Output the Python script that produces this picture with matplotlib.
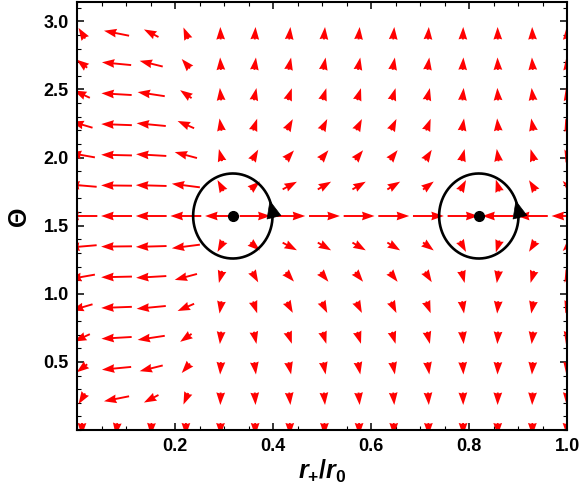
import numpy as np
import matplotlib
matplotlib.use("Agg")
import matplotlib.pyplot as plt
from matplotlib.ticker import MultipleLocator

# ---- data ----
# arrow grid (columns in r+/r0, rows in Theta)
r_points = np.linspace(0.01, 1.0, 15)
theta_points = np.pi / 2 + (np.arange(14) - 7) * 0.2236

# radial component of the field per column (estimated from arrow tilts)
phi_r = [-0.75, -6.0, -2.3, -0.5, -0.035, 0.075, 0.12, 0.11, 0.11,
         0.105, 0.085, 0.035, -0.02, -0.04, -0.06]
# angular component of the field per row (estimated from arrow tilts)
phi_theta = [-180.0, -4.3, -2.05, -1.25, -0.79, -0.48, -0.23, 0.0,
             0.23, 0.48, 0.79, 1.25, 2.05, 4.3]

# zero points (defects) of the field
zero_r = [0.318, 0.82]
zero_theta = [np.pi / 2, np.pi / 2]

x_ticks = [0.2, 0.4, 0.6, 0.8, 1.0]
x_ticklabels = ["0.2", "0.4", "0.6", "0.8", "1.0"]
y_ticks = [0.5, 1.0, 1.5, 2.0, 2.5, 3.0]
y_ticklabels = ["0.5", "1.0", "1.5", "2.0", "2.5", "3.0"]

# ---- figure ----
plt.rcParams["font.family"] = ["Liberation Sans", "DejaVu Sans"]
plt.rcParams["mathtext.fontset"] = "custom"
plt.rcParams["mathtext.rm"] = "Liberation Sans:bold"
plt.rcParams["mathtext.it"] = "Liberation Sans:bold:italic"
plt.rcParams["mathtext.bf"] = "Liberation Sans:bold"

W, H = 581, 498
fig = plt.figure(figsize=(W / 100, H / 100), dpi=100)
ax_l, ax_r, ax_t, ax_b = 77, 567, 2, 430
ax = fig.add_axes([ax_l / W, 1 - ax_b / H, (ax_r - ax_l) / W, (ax_b - ax_t) / H])
ax.set_xlim(0, 1)
ax.set_ylim(0, np.pi)

# pixel per data unit
sx = (ax_r - ax_l) / 1.0
sy = (ax_b - ax_t) / np.pi

R, T = np.meshgrid(r_points, theta_points)
A, B = np.meshgrid(phi_r, phi_theta)
N = np.hypot(A, B)
nx, ny = A / N, B / N
L = 0.063
pix = L * np.hypot(nx * sx, ny * sy)
f = np.maximum(1.0, 12.5 / pix)
U = L * nx * f
V = L * ny * f

ax.quiver(R, T, U, V, angles="xy", scale_units="xy", scale=1, pivot="middle",
          color="#ff0000", units="dots", width=1.9, headwidth=4.6,
          headlength=6.6, headaxislength=6.1, minshaft=0.01, zorder=2)

# circles around the zero points with direction arrows
t = np.linspace(0, 2 * np.pi, 400)
rx, ry = 0.081, 0.312
for r0, th0 in zip(zero_r, zero_theta):
    ax.plot(r0 + rx * np.cos(t), th0 + ry * np.sin(t), color="k", lw=1.9, zorder=3)
    ax.annotate("", xy=(r0 + rx * np.cos(0.38), th0 + ry * np.sin(0.38)),
                xytext=(r0 + rx * np.cos(0.15), th0 + ry * np.sin(0.15)),
                arrowprops=dict(arrowstyle="-|>,head_length=0.75,head_width=0.32",
                                color="k", lw=0.5, shrinkA=0, shrinkB=0,
                                mutation_scale=16), zorder=4)
ax.plot(zero_r, zero_theta, "o", color="k", ms=7, zorder=5)

# ticks and frame
ax.set_xticks(x_ticks)
ax.set_xticklabels(x_ticklabels)
ax.set_yticks(y_ticks)
ax.set_yticklabels(y_ticklabels)
ax.xaxis.set_minor_locator(MultipleLocator(0.05))
ax.yaxis.set_minor_locator(MultipleLocator(0.1))
ax.tick_params(which="both", direction="in", top=True, right=True)
ax.tick_params(which="major", length=5, width=1.1, labelsize=13, pad=6)
ax.tick_params(which="minor", length=2.8, width=0.8)
for lab in ax.get_xticklabels() + ax.get_yticklabels():
    lab.set_fontweight("bold")
for s in ax.spines.values():
    s.set_linewidth(1.5)

ax.set_xlabel(r"$r_{+}/r_{0}$", fontsize=18, labelpad=2)
ax.set_ylabel("Θ", fontsize=18, fontweight="bold", labelpad=9)

fig.savefig("out.png", dpi=100)
